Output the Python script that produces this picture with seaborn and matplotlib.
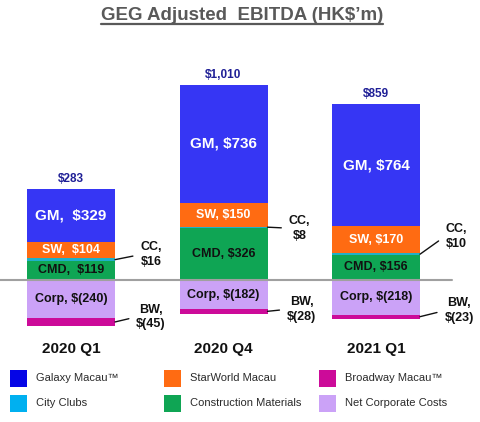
import matplotlib
matplotlib.use("Agg")
import matplotlib.pyplot as plt
import seaborn as sns
import pandas as pd
import numpy as np
from matplotlib.patches import Rectangle
from matplotlib.lines import Line2D

# ---------------- data ----------------
categories = ["2020 Q1", "2020 Q4", "2021 Q1"]
gm = [329, 736, 764]
sw = [104, 150, 170]
cc = [16, 8, 10]
cmd = [119, 326, 156]
corp = [-240, -182, -218]
bw = [-45, -28, -23]
totals = [283, 1010, 859]

legend_names = ["Galaxy Macau™", "StarWorld Macau", "Broadway Macau™",
                "City Clubs", "Construction Materials", "Net Corporate Costs"]

# ---------------- style ----------------
sns.set_theme(style="white")
plt.rcParams["font.family"] = ["Liberation Sans", "DejaVu Sans"]

COL = {
    "gm": "#3636f4", "sw": "#ff6b12", "cc": "#1fb0c8", "cmd": "#0fa554",
    "corp": "#cba2f7", "bw": "#cc0b99",
}
LEG_COL = ["#0505e6", "#ff6b12", "#cc0b99", "#00b0f0", "#0fa554", "#cba2f7"]

W, H = 480, 422
fig = plt.figure(figsize=(W / 100, H / 100), dpi=100)
ax = fig.add_axes([0, 1 - 335 / H, 1, 275 / H])

df = pd.DataFrame({"cat": categories, "gm": gm, "sw": sw, "cc": cc,
                   "cmd": cmd, "corp": corp, "bw": bw, "total": totals})
df["c_cmd"] = df["cmd"]
df["c_cc"] = df["c_cmd"] + df["cc"]
df["c_sw"] = df["c_cc"] + df["sw"]
df["c_gm"] = df["c_sw"] + df["gm"]
df["c_corp"] = df["corp"]
df["c_bw"] = df["c_corp"] + df["bw"]

bw_width = 88 / 152.5
for col, key in [("c_gm", "gm"), ("c_sw", "sw"), ("c_cc", "cc"), ("c_cmd", "cmd"),
                 ("c_bw", "bw"), ("c_corp", "corp")]:
    sns.barplot(data=df, x="cat", y=col, order=categories, color=COL[key],
                saturation=1, width=bw_width, errorbar=None, ax=ax,
                linewidth=0, edgecolor="none")

ax.set_ylim(-344, 1375)
ax.set_xlim(-71 / 152.5, (W - 71) / 152.5)
ax.axhline(0, xmin=0, xmax=452 / W, color="#a0a0a0", lw=1.5, zorder=5)
for s in ax.spines.values():
    s.set_visible(False)
ax.set_yticks([])
ax.set_xlabel("")
ax.set_ylabel("")
ax.tick_params(axis="x", length=0, pad=5)
for lab in ax.get_xticklabels():
    lab.set_fontsize(11)
    lab.set_fontweight("bold")
    lab.set_color("#111111")

# ---------------- segment labels ----------------
sep = ["  ", " ", " "]
for i in range(len(categories)):
    r = df.iloc[i]
    s = sep[i]
    ax.text(i, r["c_sw"] + r["gm"] / 2, f"GM,{s}${r['gm']:,}", ha="center", va="center",
            color="white", fontsize=11, fontweight="bold", zorder=6)
    ax.text(i, r["c_cc"] + r["sw"] / 2, f"SW,{s}${r['sw']:,}", ha="center", va="center",
            color="white", fontsize=9, fontweight="bold", zorder=6)
    ax.text(i, r["cmd"] / 2, f"CMD,{s}${r['cmd']:,}", ha="center", va="center",
            color="#111111", fontsize=9, fontweight="bold", zorder=6)
    ax.text(i, r["corp"] / 2, f"Corp, $({-r['corp']:,})", ha="center", va="center",
            color="#111111", fontsize=9, fontweight="bold", zorder=6)
    ax.annotate(f"${r['total']:,}", xy=(i, r["c_gm"]), xytext=(0, 3),
                textcoords="offset points", ha="center", va="bottom",
                color="#1f1f96", fontsize=8.5, fontweight="bold")

# ---------------- callouts ----------------
px = 0.72  # px -> points
cc_off = [(36, 5), (32, -1), (36, 18)]
bw_off = [(36, 5), (34, 2), (39, 6)]
for i in range(len(categories)):
    r = df.iloc[i]
    xe = i + bw_width / 2
    ax.annotate(f"CC,\n${r['cc']}", xy=(xe, r["cmd"] + r["cc"] / 2),
                xytext=(cc_off[i][0] * px, cc_off[i][1] * px), textcoords="offset points",
                ha="center", va="center", multialignment="center", linespacing=1.3,
                fontsize=9, fontweight="bold", color="#111111",
                arrowprops=dict(arrowstyle="-", color="#111111", lw=1,
                                relpos=(0, 0.5), shrinkA=3, shrinkB=0))
    ax.annotate(f"BW,\n$({-r['bw']})", xy=(xe, r["corp"] + r["bw"] / 2),
                xytext=(bw_off[i][0] * px, bw_off[i][1] * px), textcoords="offset points",
                ha="center", va="center", multialignment="center", linespacing=1.3,
                fontsize=9, fontweight="bold", color="#111111",
                arrowprops=dict(arrowstyle="-", color="#111111", lw=1,
                                relpos=(0, 0.5), shrinkA=3, shrinkB=0))

# ---------------- title ----------------
title = fig.text(242 / W, 1 - 15 / H, "GEG Adjusted  EBITDA (HK$’m)", ha="center",
                 va="center", fontsize=13.5, fontweight="bold", color="#595959")
fig.canvas.draw()
bb = title.get_window_extent(fig.canvas.get_renderer())
fig.add_artist(Line2D([bb.x0 / W, bb.x1 / W], [1 - 24 / H, 1 - 24 / H],
                      transform=fig.transFigure, color="#595959", lw=1.6))

# ---------------- legend ----------------
col_x = [10, 164, 319]
row_y = [378, 403]
for k, name in enumerate(legend_names):
    rr, cc_i = divmod(k, 3)
    x0 = col_x[cc_i]
    yc = row_y[rr]
    fig.add_artist(Rectangle((x0 / W, 1 - (yc + 8.5) / H), 17 / W, 17 / H,
                             transform=fig.transFigure, color=LEG_COL[k], lw=0))
    fig.text((x0 + 26) / W, 1 - yc / H, name, ha="left", va="center",
             fontsize=8, color="#2a2a2a")

fig.savefig("out.png", dpi=100)
